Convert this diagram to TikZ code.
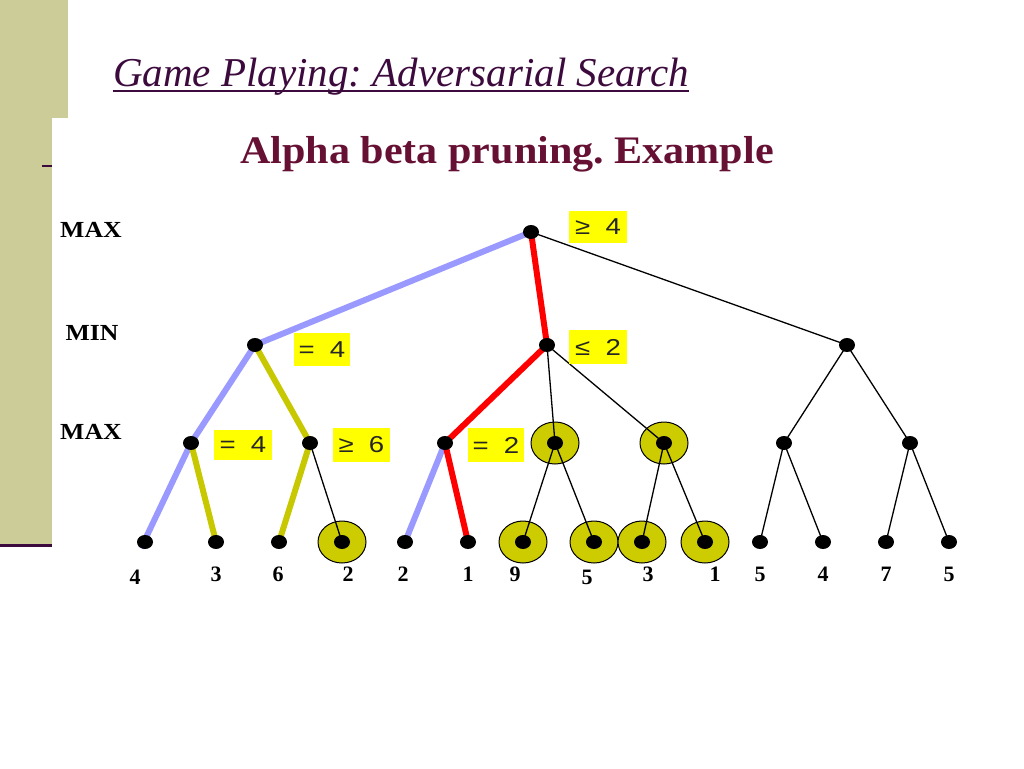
\documentclass[tikz,border=0pt]{standalone}
\usepackage{fontspec}
\setmainfont{Liberation Serif}
\newfontfamily\boxfont{Liberation Sans}
\usetikzlibrary{shapes.geometric}
\pgfdeclarelayer{bottom}
\pgfdeclarelayer{background}
\pgfsetlayers{bottom,background,main}
\definecolor{olivebg}{RGB}{204,204,153}
\definecolor{titlecol}{RGB}{60,10,60}
\definecolor{headcol}{RGB}{102,16,51}
\definecolor{edgeblue}{RGB}{153,153,255}
\definecolor{edgeolive}{RGB}{200,200,0}
\definecolor{prunefill}{RGB}{204,204,0}
\definecolor{boxyellow}{RGB}{255,255,0}
\frenchspacing
\tikzset{
  dot/.style={ellipse,fill=black,inner sep=0pt,minimum width=16pt,minimum height=14pt},
  prune/.style={ellipse,fill=prunefill,draw=black,line width=1pt,minimum width=48pt,minimum height=42pt,inner sep=0pt},
  thin/.style={draw=black,line width=1.3pt},
  bluee/.style={draw=edgeblue,line width=6pt},
  olivee/.style={draw=edgeolive,line width=6pt},
  rede/.style={draw=red,line width=6pt},
  valbox/.style={fill=boxyellow,inner sep=0pt,font=\boxfont\fontsize{23}{26}\selectfont,text=black!85},
  lvl/.style={font=\bfseries\fontsize{23}{26}\selectfont,xscale=1.12},
  leaflab/.style={font=\bfseries\fontsize{22}{24}\selectfont},
}
\newcommand{\bv}[2]{\scalebox{1.2}[1]{#1\hspace{0.55em}#2}}
\begin{document}
\begin{tikzpicture}[x=1pt,y=-1pt]
\useasboundingbox (0,0) rectangle (1024,768);
\begin{pgfonlayer}{bottom}
\fill[white] (0,0) rectangle (1024,768);
\fill[olivebg] (0,0) rectangle (68,118);
\fill[olivebg] (0,118) rectangle (52,545);
\draw[titlecol,line width=3pt] (0,545) -- (52,545);
\draw[titlecol,line width=1.3pt] (42,166) -- (52,166);
\end{pgfonlayer}
% title
\node[anchor=base west,inner sep=0pt,text=titlecol,font=\itshape\fontsize{41}{48}\selectfont] (title) at (113,86) {Game Playing: Adversarial Search};
\draw[titlecol,line width=1.5pt] (title.south west |- 0,91) -- (title.south east |- 0,91);
% heading
\node[anchor=base,inner sep=0pt,text=headcol,font=\bfseries\fontsize{39}{44}\selectfont,xscale=1.08] (head) at (507,163) {Alpha beta pruning. Example};
% level labels
\node[lvl] (l1) at (91,230) {MAX};
\node[lvl] (l2) at (92,333) {MIN};
\node[lvl] (l3) at (91,432) {MAX};
% nodes
\node[dot] (r) at (531,232) {};
\node[dot] (a) at (255,345) {};
\node[dot] (b) at (547,345) {};
\node[dot] (c) at (847,345) {};
\node[dot] (a1) at (191,443) {};
\node[dot] (a2) at (310,443) {};
\node[dot] (b1) at (445,443) {};
\node[dot] (b2) at (555,443) {};
\node[dot] (b3) at (664,443) {};
\node[dot] (c1) at (784,443) {};
\node[dot] (c2) at (910,443) {};
\node[dot] (n1) at (145,542) {};
\node[dot] (n2) at (216,542) {};
\node[dot] (n3) at (279,542) {};
\node[dot] (n4) at (342,542) {};
\node[dot] (n5) at (405,542) {};
\node[dot] (n6) at (468,542) {};
\node[dot] (n7) at (523,542) {};
\node[dot] (n8) at (594,542) {};
\node[dot] (n9) at (642,542) {};
\node[dot] (n10) at (705,542) {};
\node[dot] (n11) at (760,542) {};
\node[dot] (n12) at (823,542) {};
\node[dot] (n13) at (886,542) {};
\node[dot] (n14) at (949,542) {};
\begin{pgfonlayer}{background}
% pruned rings
\node[prune] (p1) at (n4) {};
\node[prune] (p2) at (b2) {};
\node[prune] (p3) at (n7) {};
\node[prune] (p4) at (n8) {};
\node[prune] (p5) at (b3) {};
\node[prune] (p6) at (n9) {};
\node[prune] (p7) at (n10) {};
% edges
\draw[bluee] (r.center) -- (a.center);
\draw[rede] (r.center) -- (b.center);
\draw[thin] (r.center) -- (c.center);
\draw[bluee] (a.center) -- (a1.center);
\draw[olivee] (a.center) -- (a2.center);
\draw[bluee] (a1.center) -- ([shift={(-4pt,-6pt)}]n1.center);
\draw[olivee] (a1.center) -- (n2.center);
\draw[olivee] (a2.center) -- (n3.center);
\draw[thin] (a2.center) -- (n4.center);
\draw[rede] (b.center) -- (b1.center);
\draw[thin] (b.center) -- (b2.center);
\draw[thin] (b.center) -- (b3.center);
\draw[bluee] (b1.center) -- (n5.center);
\draw[rede] (b1.center) -- (n6.center);
\draw[thin] (b2.center) -- (n7.center);
\draw[thin] (b2.center) -- (n8.center);
\draw[thin] (b3.center) -- (n9.center);
\draw[thin] (b3.center) -- (n10.center);
\draw[thin] (c.center) -- (c1.center);
\draw[thin] (c.center) -- (c2.center);
\draw[thin] (c1.center) -- (n11.center);
\draw[thin] (c1.center) -- (n12.center);
\draw[thin] (c2.center) -- (n13.center);
\draw[thin] (c2.center) -- (n14.center);
\end{pgfonlayer}
% value boxes
\node[valbox,minimum width=58pt,minimum height=32pt] (v1) at (598,227) {\bv{≥}{4}};
\node[valbox,minimum width=58pt,minimum height=34pt] (v2) at (598,347) {\bv{≤}{2}};
\node[valbox,minimum width=56pt,minimum height=33pt] (v3) at (322,349.5) {\bv{=}{4}};
\node[valbox,minimum width=58pt,minimum height=30pt] (v4) at (243,445) {\bv{=}{4}};
\node[valbox,minimum width=57pt,minimum height=34pt] (v5) at (361.5,445) {\bv{≥}{6}};
\node[valbox,minimum width=56pt,minimum height=34pt] (v6) at (496,445) {\bv{=}{2}};
% leaf values
\node[leaflab] (t1) at (135,577) {4};
\node[leaflab] (t2) at (216,574) {3};
\node[leaflab] (t3) at (278,574) {6};
\node[leaflab] (t4) at (348,574) {2};
\node[leaflab] (t5) at (403,574) {2};
\node[leaflab] (t6) at (468,574) {1};
\node[leaflab] (t7) at (515,574) {9};
\node[leaflab] (t8) at (587,577) {5};
\node[leaflab] (t9) at (648,574) {3};
\node[leaflab] (t10) at (715,574) {1};
\node[leaflab] (t11) at (760,574) {5};
\node[leaflab] (t12) at (823,574) {4};
\node[leaflab] (t13) at (886,574) {7};
\node[leaflab] (t14) at (949,574) {5};
\end{tikzpicture}
\end{document}
